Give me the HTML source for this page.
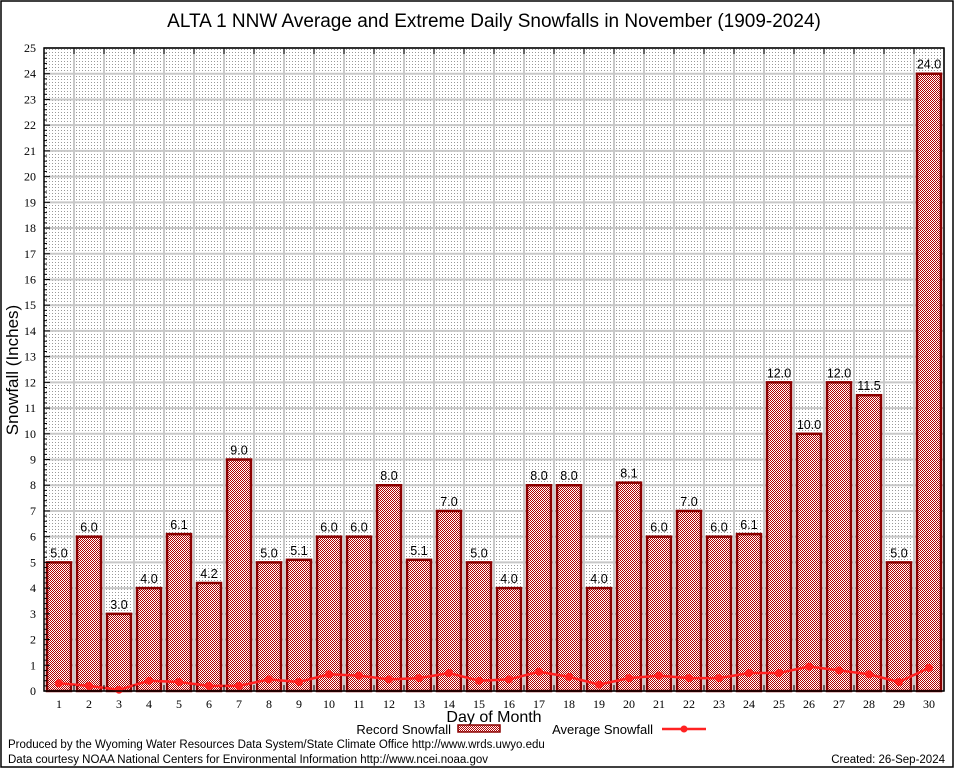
<!DOCTYPE html>
<html><head><meta charset="utf-8"><style>
body{margin:0;background:#fff;}
svg{display:block;font-family:"Liberation Sans",sans-serif;}
</style></head><body>
<svg id="chart" width="954" height="768">
<defs>
<pattern id="dots" width="3" height="3" patternUnits="userSpaceOnUse"><rect width="3" height="3" fill="#fff"/><rect x="1" y="1" width="1" height="1" fill="#999"/></pattern>
<pattern id="check" width="2" height="2" patternUnits="userSpaceOnUse"><rect width="2" height="2" fill="#fff"/><rect width="1" height="1" fill="#b00000"/><rect x="1" y="1" width="1" height="1" fill="#b00000"/></pattern>
</defs>
<rect x="1" y="1" width="952" height="766" fill="#fff" stroke="#000" stroke-width="1.5"/>
<text x="494" y="27" font-size="19" text-anchor="middle">ALTA 1 NNW Average and Extreme Daily Snowfalls in November (1909-2024)</text>
<rect x="44" y="48" width="900" height="643" fill="url(#dots)"/>
<g id="grid"></g><g id="bars"></g><g id="avg"></g><g id="axes"></g>
<text x="18" y="370" font-size="17" text-anchor="middle" transform="rotate(-90 18 370)">Snowfall (Inches)</text>
<text x="494" y="722" font-size="16" text-anchor="middle">Day of Month</text>
<g><text x="451" y="734" font-size="13" text-anchor="end">Record Snowfall</text><rect x="458" y="725" width="42" height="7" fill="url(#check)" stroke="#8b0000" stroke-width="1.5"/></g>
<g><text x="653" y="734" font-size="13" text-anchor="end">Average Snowfall</text><line x1="662" y1="729" x2="706" y2="729" stroke="#f22" stroke-width="2.5"/><circle cx="684" cy="729" r="3.5" fill="#f22"/></g>
<text x="8" y="748" font-size="11.5">Produced by the Wyoming Water Resources Data System/State Climate Office http://www.wrds.uwyo.edu</text>
<text x="8" y="763" font-size="11.5">Data courtesy NOAA National Centers for Environmental Information http://www.ncei.noaa.gov</text>
<text x="945" y="763" font-size="11.5" text-anchor="end">Created: 26-Sep-2024</text>
</svg>
<script>
const days=[1,2,3,4,5,6,7,8,9,10,11,12,13,14,15,16,17,18,19,20,21,22,23,24,25,26,27,28,29,30];
const recordValues=[5.0,6.0,3.0,4.0,6.1,4.2,9.0,5.0,5.1,6.0,6.0,8.0,5.1,7.0,5.0,4.0,8.0,8.0,4.0,8.1,6.0,7.0,6.0,6.1,12.0,10.0,12.0,11.5,5.0,24.0];
const averageValues=[0.3,0.2,0.05,0.4,0.35,0.2,0.2,0.45,0.35,0.65,0.6,0.45,0.5,0.7,0.4,0.45,0.75,0.55,0.25,0.5,0.6,0.5,0.5,0.7,0.7,0.95,0.8,0.65,0.35,0.9];
const yTicks=[0,1,2,3,4,5,6,7,8,9,10,11,12,13,14,15,16,17,18,19,20,21,22,23,24,25];
const NS='http://www.w3.org/2000/svg';
const L=44,R=944,T=48,B=691,YMAX=25;
const x=d=>L+15+30*(d-1);
const y=v=>B-(v/YMAX)*(B-T);
function mk(t,a,p){const e=document.createElementNS(NS,t);for(const k in a)e.setAttribute(k,a[k]);p.appendChild(e);return e;}
const grid=document.getElementById('grid'),bars=document.getElementById('bars'),avg=document.getElementById('avg'),axes=document.getElementById('axes');
yTicks.forEach(v=>{
 const g=mk('line',{x1:L,x2:R,y1:y(v),y2:y(v),stroke:'#c8c8c8','stroke-width':2},grid);
 
 
 const t=mk('text',{x:L-8,y:y(v)+4,'font-size':12,'text-anchor':'end','font-family':'Liberation Serif, serif'},axes);t.textContent=v;
 
 
 mk('line',{x1:L,x2:L+6,y1:y(v),y2:y(v),stroke:'#000'},axes);
 if(v<YMAX){for(let k=1;k<5;k++){const yy=y(v+k*0.2);mk('line',{x1:L,x2:L+3,y1:yy,y2:yy,stroke:'#000'},axes);}}
});
days.forEach(d=>{
 const g=mk('line',{x1:x(d)+15,x2:x(d)+15,y1:T,y2:B,stroke:'#c8c8c8','stroke-width':2},grid);
 
 
 const t=mk('text',{x:x(d),y:B+17,'font-size':12,'text-anchor':'middle','font-family':'Liberation Serif, serif'},axes);t.textContent=d;
 
 
 mk('line',{x1:x(d)-15,x2:x(d)-15,y1:B,y2:B-6,stroke:'#000'},axes);
 mk('line',{x1:x(d)-15,x2:x(d)-15,y1:T,y2:T+6,stroke:'#000'},axes);
});
mk('rect',{x:L,y:T,width:R-L,height:B-T,fill:'none',stroke:'#000','stroke-width':1.5},axes);
recordValues.forEach((v,i)=>{
 const d=days[i];
 const b=mk('rect',{x:x(d)-12,y:y(v),width:24,height:B-y(v),fill:'url(#check)',stroke:'#8b0000','stroke-width':2.5},bars);
 
 
 const t=mk('text',{x:x(d),y:y(v)-5,'font-size':12.5,'text-anchor':'middle'},bars);t.textContent=v.toFixed(1);
 
 
});
const pl=mk('polyline',{points:averageValues.map((v,i)=>x(days[i])+','+y(v)).join(' '),fill:'none',stroke:'#ff2222','stroke-width':2.5},avg);


averageValues.forEach((v,i)=>{
 const c=mk('circle',{cx:x(days[i]),cy:y(v),r:4,fill:'#ff2222'},avg);
 
 
});
</script>
</body></html>
